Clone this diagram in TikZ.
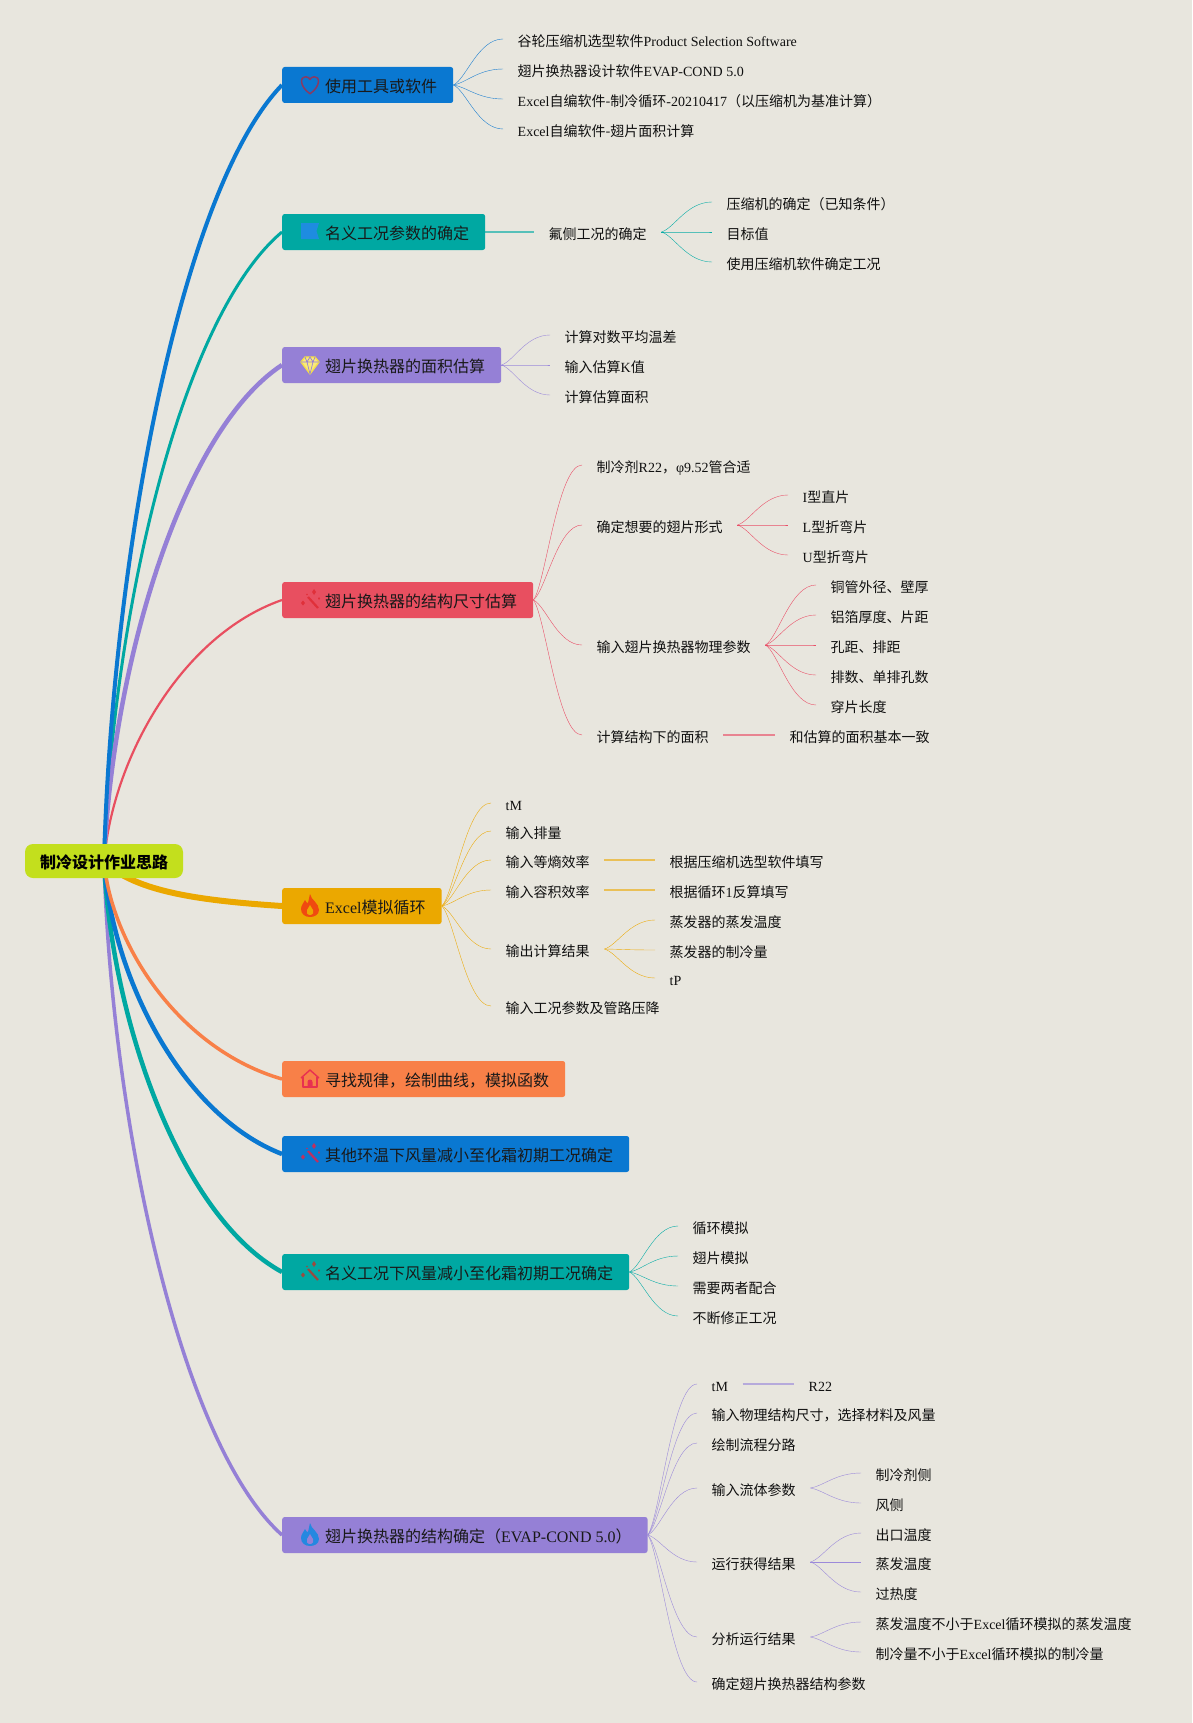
\documentclass[tikz,border=0pt]{standalone}
\usepackage{fontspec}
\setmainfont{Noto Sans CJK SC}
\newfontfamily\latf{Liberation Serif}
\newcommand{\latn}[1]{{\latf #1}}
\usetikzlibrary{calc}
\definecolor{bgc}{HTML}{E8E6DE}
\definecolor{cblue}{HTML}{0A78D1}
\definecolor{cteal}{HTML}{00A8A2}
\definecolor{cpurp}{HTML}{9580D6}
\definecolor{cred}{HTML}{E84F60}
\definecolor{corg}{HTML}{EBA800}
\definecolor{ccor}{HTML}{F88048}
\definecolor{croot}{HTML}{C3DF1D}
\definecolor{lblue}{HTML}{1F80D0}
\definecolor{lteal}{HTML}{08ACA6}
\definecolor{lpurp}{HTML}{9C8ADA}
\definecolor{lred}{HTML}{E85068}
\definecolor{lorg}{HTML}{ECAC10}
\definecolor{txt}{HTML}{101010}
\definecolor{iheart}{HTML}{8A3A62}
\definecolor{iflag}{HTML}{1E8CE0}
\definecolor{idia}{HTML}{F6E045}
\definecolor{iwandr}{HTML}{E0303A}
\definecolor{iwandb}{HTML}{C0305F}
\definecolor{iwandt}{HTML}{9A4A40}
\definecolor{ifire}{HTML}{F04A10}
\definecolor{ifireb}{HTML}{2488E0}
\definecolor{ihouse}{HTML}{E83050}
\pgfdeclarelayer{bgl}
\pgfdeclarelayer{conl}
\pgfsetlayers{bgl,conl,main}
\tikzset{
 x=1pt,y=-1pt,
 leaf/.style={anchor=west,inner xsep=14.5pt,inner ysep=0pt,text height=14.8pt,text depth=0pt,text=txt,font=\fontsize{14}{16}\selectfont},
 bbox/.style={anchor=west,fill=#1,rounded corners=2.5pt,inner xsep=16pt,inner ysep=0pt,minimum height=36pt,text height=14.6pt,text depth=0pt,text=black!90,font=\fontsize{16}{18}\selectfont},
 rootbox/.style={fill=croot,rounded corners=8pt,inner xsep=15pt,inner ysep=0pt,minimum height=34pt,text height=14.6pt,text depth=0pt,text=black,font=\fontsize{16}{18}\selectfont\bfseries},
 fan/.style={line width=1.3pt,to path={let \p1=(\tikztostart),\p2=(\tikztotarget),\n1={\x2-\x1},\n2={\y2-\y1} in (\p1) .. controls ({\x1+0.25*\n1},{\y1+0.12*\n2}) and ({\x1+0.5*\n1},\y2) .. (\p2)}},
 brch/.style={line cap=round,to path={let \p1=(\tikztostart),\p2=(\tikztotarget),\n1={\x2-\x1},\n2={\y2-\y1} in (\p1) .. controls ({\x1+0.045*\n1},{\y1+0.39*\n2}) and ({\x1+0.43*\n1},{\y2-0.135*\n2}) .. (\p2)}},
 straight/.style={line width=1.5pt,opacity=.65},
}
\newcommand{\gap}{\hspace*{27pt}}
\newcommand{\wandicon}[1]{%
\draw[#1,line width=2.2pt] (-2,-3) -- (8,8);
\fill[#1] (-7,0.5) -- (-5,3) -- (-7,5.5) -- (-9,3) -- cycle;
\fill[#1] (4,-11) -- (6,-8) -- (4,-5) -- (2,-8) -- cycle;
\fill[#1] (9,-3) -- (10,-1.5) -- (9,0) -- (8,-1.5) -- cycle;
\fill[#1] (-3,-5.5) circle (.9);
}
\newcommand{\fireicon}[2]{%
\fill[#1] (0,-12) .. controls (1,-6) and (9,-3) .. (9,4) .. controls (9,9) and (4,11) .. (0,11) .. controls (-5,11) and (-9,8) .. (-9,3) .. controls (-9,-1) and (-6,-3) .. (-5,-6) .. controls (-4,-4) and (-3,-3) .. (-2,-3) .. controls (-1,-6) and (-1,-9) .. (0,-12) -- cycle;
\fill[#2] (0,9) .. controls (-3,9) and (-4,6) .. (-3,4) .. controls (-2,2) and (-1,1) .. (0,-1) .. controls (1,1) and (2,2) .. (3,4) .. controls (4,6) and (3,9) .. (0,9) -- cycle;
}
\begin{document}
\begin{tikzpicture}
\useasboundingbox (0,0) rectangle (1192,1723);
\begin{pgfonlayer}{bgl}
\fill[bgc] (0,0) rectangle (1192,1723);
\end{pgfonlayer}

\node[rootbox] (root) at (104,861) {制冷设计作业思路};
\coordinate (rc) at (104,862);

% branches
\node[bbox=cblue] (b1) at (282,85) {\gap 使用工具或软件};
\node[bbox=cteal] (b2) at (282,232) {\gap 名义工况参数的确定};
\node[bbox=cpurp] (b3) at (282,365) {\gap 翅片换热器的面积估算};
\node[bbox=cred] (b4) at (282,600) {\gap 翅片换热器的结构尺寸估算};
\node[bbox=corg] (b5) at (282,906) {\gap \latn{Excel}模拟循环};
\node[bbox=ccor] (b6) at (282,1079) {\gap 寻找规律，绘制曲线，模拟函数};
\node[bbox=cblue] (b7) at (282,1154) {\gap 其他环温下风量减小至化霜初期工况确定};
\node[bbox=cteal] (b8) at (282,1272) {\gap 名义工况下风量减小至化霜初期工况确定};
\node[bbox=cpurp] (b9) at (282,1535) {\gap 翅片换热器的结构确定（\latn{EVAP-COND 5.0}）};

% leaves b1
\node[leaf] (a1) at (503,39) {谷轮压缩机选型软件\latn{Product Selection Software}};
\node[leaf] (a2) at (503,69) {翅片换热器设计软件\latn{EVAP-COND 5.0}};
\node[leaf] (a3) at (503,99) {\latn{Excel}自编软件-制冷循环\latn{-20210417}（以压缩机为基准计算）};
\node[leaf] (a4) at (503,129) {\latn{Excel}自编软件-翅片面积计算};
% b2
\node[leaf] (c0) at (534,232) {氟侧工况的确定};
\node[leaf] (c1) at (712,202) {压缩机的确定（已知条件）};
\node[leaf] (c2) at (712,232) {目标值};
\node[leaf] (c3) at (712,262) {使用压缩机软件确定工况};
% b3
\node[leaf] (d1) at (550,335) {计算对数平均温差};
\node[leaf] (d2) at (550,365) {输入估算\latn{K}值};
\node[leaf] (d3) at (550,395) {计算估算面积};
% b4
\node[leaf] (e1) at (582,465) {制冷剂\latn{R22}，\latn{φ9.52}管合适};
\node[leaf] (e2) at (582,525) {确定想要的翅片形式};
\node[leaf] (e3) at (582,645) {输入翅片换热器物理参数};
\node[leaf] (e4) at (582,735) {计算结构下的面积};
\node[leaf] (e21) at (788,495) {\latn{I}型直片};
\node[leaf] (e22) at (788,525) {\latn{L}型折弯片};
\node[leaf] (e23) at (788,555) {\latn{U}型折弯片};
\node[leaf] (e31) at (816,585) {铜管外径、壁厚};
\node[leaf] (e32) at (816,615) {铝箔厚度、片距};
\node[leaf] (e33) at (816,645) {孔距、排距};
\node[leaf] (e34) at (816,675) {排数、单排孔数};
\node[leaf] (e35) at (816,705) {穿片长度};
\node[leaf] (e41) at (775,735) {和估算的面积基本一致};
% b5
\node[leaf] (f1) at (491,803) {\latn{tM}};
\node[leaf] (f2) at (491,831) {输入排量};
\node[leaf] (f3) at (491,860) {输入等熵效率};
\node[leaf] (f4) at (491,890) {输入容积效率};
\node[leaf] (f5) at (491,949) {输出计算结果};
\node[leaf] (f6) at (491,1006) {输入工况参数及管路压降};
\node[leaf] (f31) at (655,860) {根据压缩机选型软件填写};
\node[leaf] (f41) at (655,890) {根据循环\latn{1}反算填写};
\node[leaf] (f51) at (655,920) {蒸发器的蒸发温度};
\node[leaf] (f52) at (655,950) {蒸发器的制冷量};
\node[leaf] (f53) at (655,978) {\latn{tP}};
% b8
\node[leaf] (g1) at (678,1226) {循环模拟};
\node[leaf] (g2) at (678,1256) {翅片模拟};
\node[leaf] (g3) at (678,1286) {需要两者配合};
\node[leaf] (g4) at (678,1316) {不断修正工况};
% b9
\node[leaf] (h1) at (697,1384) {\latn{tM}};
\node[leaf] (h2) at (697,1413) {输入物理结构尺寸，选择材料及风量};
\node[leaf] (h3) at (697,1443) {绘制流程分路};
\node[leaf] (h4) at (697,1488) {输入流体参数};
\node[leaf] (h5) at (697,1562) {运行获得结果};
\node[leaf] (h6) at (697,1637) {分析运行结果};
\node[leaf] (h7) at (697,1682) {确定翅片换热器结构参数};
\node[leaf] (h11) at (794,1384) {\latn{R22}};
\node[leaf] (h41) at (861,1473) {制冷剂侧};
\node[leaf] (h42) at (861,1503) {风侧};
\node[leaf] (h51) at (861,1533) {出口温度};
\node[leaf] (h52) at (861,1562) {蒸发温度};
\node[leaf] (h53) at (861,1592) {过热度};
\node[leaf] (h61) at (861,1622) {蒸发温度不小于\latn{Excel}循环模拟的蒸发温度};
\node[leaf] (h62) at (861,1652) {制冷量不小于\latn{Excel}循环模拟的制冷量};

\begin{pgfonlayer}{conl}
\draw[cteal,line width=3pt] (rc) to[brch] (b2.west);
\draw[cred,line width=2.2pt] (rc) to[brch] (b4.west);
\draw[cpurp,line width=4.5pt] (rc) to[brch] (b3.west);
\draw[cblue,line width=4pt] (rc) to[brch] (b1.west);
\draw[corg,line width=6pt,line cap=round] (rc) .. controls (135,890) and (190,900) .. (b5.west);
\draw[cpurp,line width=3.5pt] (rc) to[brch] (b9.west);
\draw[cteal,line width=4.5pt] (rc) to[brch] (b8.west);
\draw[cblue,line width=4.5pt] (rc) to[brch] (b7.west);
\draw[ccor,line width=3.5pt] (rc) to[brch] (b6.west);

\foreach \q in {a1,a2,a3,a4} \draw[lblue] (b1.east) to[fan] (\q.west);
\draw[lteal,straight] (b2.east) -- (c0.west);
\foreach \q in {c1,c2,c3} \draw[lteal] (c0.east) to[fan] (\q.west);
\foreach \q in {d1,d2,d3} \draw[lpurp] (b3.east) to[fan] (\q.west);
\foreach \q in {e1,e2,e3,e4} \draw[lred] (b4.east) to[fan] (\q.west);
\foreach \q in {e21,e22,e23} \draw[lred] (e2.east) to[fan] (\q.west);
\foreach \q in {e31,e32,e33,e34,e35} \draw[lred] (e3.east) to[fan] (\q.west);
\draw[lred,straight] (e4.east) -- (e41.west);
\foreach \q in {f1,f2,f3,f4,f5,f6} \draw[lorg] (b5.east) to[fan] (\q.west);
\draw[lorg,straight] (f3.east) -- (f31.west);
\draw[lorg,straight] (f4.east) -- (f41.west);
\foreach \q in {f51,f52,f53} \draw[lorg] (f5.east) to[fan] (\q.west);
\foreach \q in {g1,g2,g3,g4} \draw[lteal] (b8.east) to[fan] (\q.west);
\foreach \q in {h1,h2,h3,h4,h5,h6,h7} \draw[lpurp] (b9.east) to[fan] (\q.west);
\draw[lpurp,straight] (h1.east) -- (h11.west);
\foreach \q in {h41,h42} \draw[lpurp] (h4.east) to[fan] (\q.west);
\foreach \q in {h51,h52,h53} \draw[lpurp] (h5.east) to[fan] (\q.west);
\foreach \q in {h61,h62} \draw[lpurp] (h6.east) to[fan] (\q.west);
\end{pgfonlayer}

% icons
\begin{scope}[shift={(310,85)},scale=1.1]
\draw[iheart,line width=1.5pt,line join=round] (0,8) .. controls (-10,1) and (-9,-8) .. (-4,-7.5) .. controls (-2,-7.5) and (0,-6) .. (0,-5) .. controls (0,-6) and (2,-7.5) .. (4,-7.5) .. controls (9,-8) and (10,1) .. (0,8) -- cycle;
\end{scope}
\begin{scope}[shift={(310,231)}]
\fill[iflag] (-9,-8) -- (9,-8) -- (6.5,0) -- (9,8) -- (-9,8) -- cycle;
\end{scope}
\begin{scope}[shift={(310,365)}]
\draw[idia,line width=1.3pt,line join=round,fill=idia!70!white] (-5,-8) -- (5,-8) -- (9,-3) -- (0,9) -- (-9,-3) -- cycle;
\draw[cpurp,line width=.7pt] (-9,-3) -- (9,-3) (-3,-3) -- (0,9) -- (3,-3) (-5,-8) -- (-3,-3) -- (0,-8) -- (3,-3) -- (5,-8);
\end{scope}
\begin{scope}[shift={(310,600)}]\wandicon{iwandr}\end{scope}
\begin{scope}[shift={(310,1154)}]\wandicon{iwandb}\end{scope}
\begin{scope}[shift={(310,1272)}]\wandicon{iwandt}\end{scope}
\begin{scope}[shift={(310,906)}]\fireicon{ifire}{corg}\end{scope}
\begin{scope}[shift={(310,1535)}]\fireicon{ifireb}{cpurp}\end{scope}
\begin{scope}[shift={(310,1079)}]
\draw[ihouse,line width=1.4pt,line join=round] (-7,-2) -- (-7,8) -- (7,8) -- (7,-2);
\draw[ihouse,line width=1.4pt,line join=round] (-9,-1) -- (0,-9) -- (9,-1);
\fill[ihouse] (-2.5,8) -- (-2.5,3) arc[start angle=180,end angle=360,radius=2.5] -- (2.5,8) -- cycle;
\end{scope}
\end{tikzpicture}
\end{document}
